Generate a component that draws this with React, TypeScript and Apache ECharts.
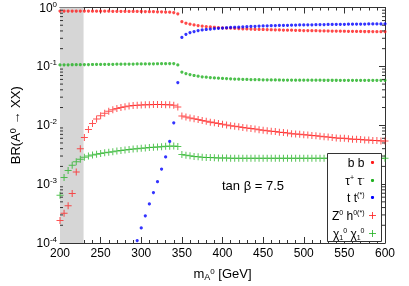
import React, { useEffect, useRef } from "react";
import * as echarts from "echarts";

const mass = [
  200, 205, 210, 215, 220, 225, 230, 235, 240, 245, 250, 255, 260, 265, 270, 275, 280, 285, 290, 295,
  300, 305, 310, 315, 320, 325, 330, 335, 340, 345, 350, 355, 360, 365, 370, 375, 380, 385, 390, 395,
  400, 405, 410, 415, 420, 425, 430, 435, 440, 445, 450, 455, 460, 465, 470, 475, 480, 485, 490, 495,
  500, 505, 510, 515, 520, 525, 530, 535, 540, 545, 550, 555, 560, 565, 570, 575, 580, 585, 590, 595, 600,
];

const bbValues = [
  0.87, 0.87, 0.87, 0.87, 0.869, 0.869, 0.868, 0.868, 0.867, 0.866, 0.866, 0.865, 0.864, 0.863, 0.862, 0.861, 0.86, 0.859, 0.858, 0.857,
  0.855, 0.853, 0.851, 0.849, 0.846, 0.843, 0.838, 0.832, 0.822, 0.78, 0.575, 0.54, 0.52, 0.505, 0.493, 0.483, 0.475, 0.468, 0.462, 0.457,
  0.452, 0.448, 0.445, 0.441, 0.438, 0.435, 0.432, 0.43, 0.427, 0.425, 0.423, 0.421, 0.419, 0.417, 0.415, 0.414, 0.412, 0.411, 0.409, 0.408,
  0.406, 0.405, 0.404, 0.403, 0.401, 0.4, 0.399, 0.398, 0.397, 0.396, 0.395, 0.394, 0.394, 0.393, 0.392, 0.391, 0.391, 0.39, 0.389, 0.389, 0.388,
];

const tautauValues = [
  0.106, 0.1062, 0.1064, 0.1066, 0.1068, 0.107, 0.1072, 0.1074, 0.1076, 0.1078, 0.108, 0.1082, 0.1084, 0.1086, 0.1088, 0.109, 0.1092, 0.1094, 0.1096, 0.1098,
  0.11, 0.1102, 0.1104, 0.1106, 0.1108, 0.111, 0.1112, 0.1114, 0.1116, 0.106, 0.08, 0.0755, 0.0725, 0.07, 0.068, 0.0665, 0.0655, 0.0645, 0.0635, 0.063,
  0.0625, 0.062, 0.0615, 0.061, 0.0607, 0.0604, 0.0601, 0.0598, 0.0596, 0.0594, 0.0592, 0.059, 0.0589, 0.0588, 0.0587, 0.0586, 0.0585, 0.0585, 0.0584, 0.0584,
  0.0583, 0.0583, 0.0582, 0.0582, 0.0582, 0.0581, 0.0581, 0.0581, 0.0581, 0.058, 0.058, 0.058, 0.058, 0.058, 0.058, 0.058, 0.058, 0.058, 0.058, 0.058, 0.058,
];

const ttValues = [
  null, null, null, null, null, null, null, null, null, null, null, null, null, null, null, null, null, null, null, 1.1e-4,
  1.8e-4, 2.9e-4, 4.6e-4, 7.2e-4, 1.1e-3, 1.8e-3, 2.9e-3, 5.3e-3, 0.011, 0.053, 0.31, 0.35, 0.376, 0.39, 0.405, 0.415, 0.423, 0.43, 0.437, 0.443,
  0.448, 0.453, 0.458, 0.462, 0.466, 0.47, 0.473, 0.477, 0.48, 0.483, 0.486, 0.488, 0.491, 0.493, 0.495, 0.497, 0.499, 0.501, 0.503, 0.505,
  0.506, 0.508, 0.509, 0.511, 0.512, 0.513, 0.515, 0.516, 0.517, 0.518, 0.519, 0.52, 0.521, 0.522, 0.523, 0.524, 0.525, 0.525, 0.526, 0.527, 0.528,
];

const zhValues = [
  2.4e-4, 3.2e-4, 4.3e-4, 6.9e-4, 1.6e-3, 4.0e-3, 6.2e-3, 8.5e-3, 0.0107, 0.0128, 0.0145, 0.016, 0.0173, 0.0184, 0.0193, 0.0201, 0.0207, 0.0212, 0.0216, 0.0219,
  0.0221, 0.0223, 0.0224, 0.0225, 0.0225, 0.0225, 0.0224, 0.0222, 0.0218, 0.0205, 0.0143, 0.0138, 0.0133, 0.0129, 0.0125, 0.0121, 0.0117, 0.0113, 0.011, 0.0107,
  0.0104, 0.0101, 0.0098, 0.0096, 0.0094, 0.0092, 0.009, 0.0088, 0.0086, 0.0084, 0.0082, 0.0081, 0.0079, 0.0078, 0.0076, 0.0075, 0.0074, 0.0072, 0.0071, 0.007,
  0.0069, 0.0068, 0.0067, 0.0066, 0.0065, 0.0064, 0.0063, 0.0062, 0.0061, 0.006, 0.006, 0.0059, 0.0058, 0.0058, 0.0057, 0.0056, 0.0056, 0.0055, 0.0055, 0.0054, 0.0054,
];

const chiValues = [
  6.5e-4, 1.3e-3, 1.7e-3, 2.1e-3, 2.4e-3, 2.65e-3, 2.85e-3, 3.0e-3, 3.12e-3, 3.22e-3, 3.32e-3, 3.4e-3, 3.48e-3, 3.56e-3, 3.64e-3, 3.72e-3, 3.8e-3, 3.87e-3, 3.94e-3, 4.0e-3,
  4.06e-3, 4.12e-3, 4.18e-3, 4.23e-3, 4.28e-3, 4.33e-3, 4.38e-3, 4.42e-3, 4.45e-3, 4.35e-3, 3.2e-3, 3.1e-3, 3.02e-3, 2.96e-3, 2.91e-3, 2.87e-3, 2.84e-3, 2.82e-3, 2.8e-3, 2.78e-3,
  2.77e-3, 2.77e-3, 2.76e-3, 2.76e-3, 2.76e-3, 2.76e-3, 2.75e-3, 2.75e-3, 2.75e-3, 2.75e-3, 2.75e-3, 2.75e-3, 2.75e-3, 2.75e-3, 2.75e-3, 2.75e-3, 2.75e-3, 2.75e-3, 2.75e-3, 2.75e-3,
  2.75e-3, 2.75e-3, 2.75e-3, 2.75e-3, 2.75e-3, 2.75e-3, 2.75e-3, 2.75e-3, 2.75e-3, 2.75e-3, 2.75e-3, 2.75e-3, 2.75e-3, 2.75e-3, 2.75e-3, 2.75e-3, 2.75e-3, 2.75e-3, 2.75e-3, 2.75e-3, 2.75e-3,
];

const xTicks = [200, 250, 300, 350, 400, 450, 500, 550, 600];
const yDecades = [1e-4, 1e-3, 1e-2, 1e-1, 1];
const minorMantissas = [2, 3, 4, 5, 6, 7, 8, 9];
const shadedBand = [200, 229];

const RED = "#ff1a1a";
const GREEN = "#1fb01f";
const BLUE = "#0000ff";
const AXIS = "#333333";
const FONT = "Liberation Sans";

const PLUS = "path://M3,0h1v3h3v1h-3v3h-1v-3h-3v-1h3z";

function pairs(values: (number | null)[]) {
  const out: number[][] = [];
  values.forEach((v, i) => {
    if (v !== null) out.push([mass[i], v]);
  });
  return out;
}

export default function App() {
  const ref = useRef<HTMLDivElement>(null);
  useEffect(() => {
    if (!ref.current) return;
    const chart = echarts.init(ref.current, null, { renderer: "svg" });

    const minorTicks: number[][] = [];
    yDecades.slice(0, -1).forEach((d) => minorMantissas.forEach((m) => minorTicks.push([xTicks[0], d * m])));

    const supRich = {
      b: { fontSize: 12, fontFamily: FONT, color: "#000" },
      sup: { fontSize: 8, fontFamily: FONT, color: "#000", verticalAlign: "top", padding: [0, 0, 7, 0] },
    };

    const LZ = 100;
    const legendEntries = [
      { t: "{b|b b}", y: 9, c: RED, k: "dot" },
      { t: "{b|τ}{sup|+}{b| τ}{sup|-}", y: 27, c: GREEN, k: "dot" },
      { t: "{b|t t}{sup|(*)}", y: 44, c: BLUE, k: "dot" },
      { t: "{b|Z}{sup|0}{b| h}{sup|0(*)}", y: 62, c: RED, k: "plus" },
      { t: "{b|χ}{sub|1}{sup|0}{b| χ}{sub|1}{sup|0}", y: 80, c: GREEN, k: "plus" },
    ];
    const legendChildren: any[] = [
      { type: "rect", z: LZ, shape: { x: 0, y: 0, width: 54, height: 88 }, style: { fill: "#fff", stroke: AXIS, lineWidth: 1 } },
    ];
    legendEntries.forEach((e) => {
      legendChildren.push({
        type: "text",
        z: LZ + 1,
        x: 37,
        y: e.y,
        style: {
          text: e.t,
          align: "right",
          verticalAlign: "middle",
          rich: {
            b: { fontSize: 12, fontFamily: FONT, fill: "#000", color: "#000" },
            sup: { fontSize: 7, fontFamily: FONT, fill: "#000", color: "#000", padding: [0, 0, 7, 0] },
            sub: { fontSize: 7, fontFamily: FONT, fill: "#000", color: "#000", padding: [7, 0, 0, 0] },
          },
        },
      });
      if (e.k === "dot") {
        legendChildren.push({ type: "circle", z: LZ + 1, shape: { cx: 45, cy: e.y, r: 1.6 }, style: { fill: e.c } });
      } else {
        legendChildren.push({ type: "line", z: LZ + 1, shape: { x1: 41.5, y1: e.y, x2: 48.5, y2: e.y }, style: { stroke: e.c, lineWidth: 1, opacity: 0.8 } });
        legendChildren.push({ type: "line", z: LZ + 1, shape: { x1: 45, y1: e.y - 3.5, x2: 45, y2: e.y + 3.5 }, style: { stroke: e.c, lineWidth: 1, opacity: 0.8 } });
      }
    });

    const option: any = {
      animation: false,
      grid: { left: 57, right: 24, top: 7, bottom: 40, containLabel: false },
      xAxis: [
        {
          type: "value",
          min: 200,
          max: 600,
          interval: 50,
          axisLine: { show: true, lineStyle: { color: AXIS, width: 1 } },
          axisTick: { show: true, inside: true, length: 6, lineStyle: { color: AXIS } },
          minorTick: { show: true, splitNumber: 5, length: 3, lineStyle: { color: AXIS } },
          splitLine: { show: false },
          axisLabel: { fontSize: 12, fontFamily: FONT, color: "#000", margin: 4 },
          name: "{b|m}{sub|A}{sup|0}{b| [GeV]}",
          nameLocation: "middle",
          nameGap: 23,
          nameTextStyle: {
            rich: {
              b: { fontSize: 13, fontFamily: FONT, color: "#000" },
              sub: { fontSize: 9, fontFamily: FONT, color: "#000", padding: [6, 0, 0, 0] },
              sup: { fontSize: 8, fontFamily: FONT, color: "#000", padding: [0, 0, 4, 0] },
            },
          },
        },
        {
          type: "value",
          position: "top",
          min: 200,
          max: 600,
          interval: 50,
          axisLine: { show: true, lineStyle: { color: AXIS, width: 1 } },
          axisTick: { show: true, inside: true, length: 6, lineStyle: { color: AXIS } },
          minorTick: { show: true, splitNumber: 5, length: 3, lineStyle: { color: AXIS } },
          splitLine: { show: false },
          axisLabel: { show: false },
        },
      ],
      yAxis: [
        {
          type: "log",
          logBase: 10,
          min: 1e-4,
          max: 1,
          axisLine: { show: true, lineStyle: { color: AXIS, width: 1 } },
          axisTick: { show: true, inside: true, length: 6, lineStyle: { color: AXIS } },
          splitLine: { show: false },
          axisLabel: {
            margin: 3,
            formatter: (v: number) => "{b|10}{sup|" + Math.round(Math.log10(v)) + "}",
            rich: supRich,
          },
          name: "{b|BR(A}{sup|0}{b| → XX)}",
          nameLocation: "middle",
          nameRotate: 90,
          nameGap: 37,
          nameTextStyle: {
            rich: {
              b: { fontSize: 13, fontFamily: FONT, color: "#000" },
              sup: { fontSize: 9, fontFamily: FONT, color: "#000", padding: [0, 0, 6, 0] },
            },
          },
        },
        {
          type: "log",
          logBase: 10,
          min: 1e-4,
          max: 1,
          position: "right",
          axisLine: { show: true, lineStyle: { color: AXIS, width: 1 } },
          axisTick: { show: true, inside: true, length: 6, lineStyle: { color: AXIS } },
          splitLine: { show: false },
          axisLabel: { show: false },
        },
      ],
      series: [
        {
          type: "scatter",
          name: "band",
          data: [],
          z: 1,
          markArea: {
            silent: true,
            itemStyle: { color: "#d6d6d6" },
            data: [[{ xAxis: shadedBand[0] }, { xAxis: shadedBand[1] }]],
          },
        },
        {
          type: "custom",
          name: "minorTicks",
          silent: true,
          z: 3,
          data: minorTicks,
          renderItem: (params: any, api: any) => {
            const cs = params.coordSys;
            const y = api.coord([api.value(0), api.value(1)])[1];
            return {
              type: "group",
              children: [
                { type: "line", shape: { x1: cs.x, y1: y, x2: cs.x + 3, y2: y }, style: { stroke: AXIS, lineWidth: 1 } },
                {
                  type: "line",
                  shape: { x1: cs.x + cs.width - 3, y1: y, x2: cs.x + cs.width, y2: y },
                  style: { stroke: AXIS, lineWidth: 1 },
                },
              ],
            };
          },
        },
        {
          type: "scatter",
          name: "Zh",
          z: 2,
          symbol: PLUS,
          symbolSize: 7,
          itemStyle: { color: RED, opacity: 0.75 },
          data: pairs(zhValues),
        },
        {
          type: "scatter",
          name: "chichi",
          z: 2,
          symbol: PLUS,
          symbolSize: 7,
          itemStyle: { color: GREEN, opacity: 0.75 },
          data: pairs(chiValues),
        },
        {
          type: "scatter",
          name: "bb",
          z: 2,
          symbol: "circle",
          symbolSize: 3.2,
          itemStyle: { color: RED },
          data: pairs(bbValues),
        },
        {
          type: "scatter",
          name: "tautau",
          z: 2,
          symbol: "circle",
          symbolSize: 3.2,
          itemStyle: { color: GREEN },
          data: pairs(tautauValues),
        },
        {
          type: "scatter",
          name: "tt",
          z: 2,
          symbol: "circle",
          symbolSize: 3.2,
          itemStyle: { color: BLUE },
          data: pairs(ttValues),
        },
      ],
      graphic: [
        {
          type: "text",
          left: 222,
          top: 179,
          z: LZ,
          style: { text: "tan β = 7.5", fontSize: 13, fontFamily: FONT, fill: "#000" },
        },
        {
          type: "group",
          left: 327,
          top: 153,
          z: LZ,
          children: legendChildren,
        },
      ],
    };
    chart.setOption(option);
    return () => chart.dispose();
  }, []);
  return <div ref={ref} style={{ position: "fixed", left: 0, top: 0, width: 409, height: 286 }} />;
}
